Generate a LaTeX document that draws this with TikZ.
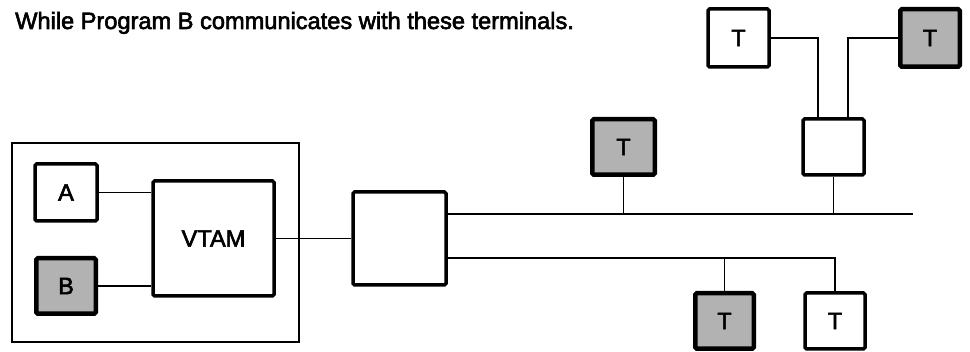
\documentclass[tikz,border=0pt]{standalone}
\usepackage{fontspec}
\setmainfont{Liberation Sans}
\newcommand\heavytext[1]{\special{pdf:literal q 2 Tr 0.6 w}#1\special{pdf:literal Q}}
\usetikzlibrary{calc}
\begin{document}
\begin{tikzpicture}[x=1pt,y=-1pt,
  lbl/.style={font=\fontsize{23.6}{26}\selectfont},
  box/.style={draw, line width=3.5pt, rounded corners=1.5pt, fill=white, inner sep=0pt, lbl},
  shaded/.style={box, fill=gray!60, line width=4.5pt},
  wire/.style={line width=1.6pt},
  host/.style={draw, line width=1.6pt, inner sep=0pt}]
\useasboundingbox (0,0) rectangle (970,352);
\node[anchor=base west, inner sep=0pt, lbl] (title) at (15,29) {\heavytext{While Program B communicates with these terminals.}};
\node[host, minimum width=287pt, minimum height=199pt] (hostbox) at (155.5,242.5) {};
\node[box, minimum width=62pt, minimum height=57pt] (A) at (66,192.5) {\heavytext{A}};
\node[shaded, minimum width=59.5pt, minimum height=55.5pt] (B) at (66,286) {\heavytext{B}};
\node[box, minimum width=121pt, minimum height=115pt] (vtam) at (213.5,238.5) {\heavytext{VTAM}};
\node[box, minimum width=93pt, minimum height=93pt] (ctl) at (399.5,238.5) {};
\node[shaded, minimum width=62.5pt, minimum height=55.5pt] (tm) at (623.5,147) {\heavytext{T}};
\node[box, minimum width=61pt, minimum height=56pt] (sw) at (833.5,147) {};
\node[box, minimum width=61pt, minimum height=58pt] (t1) at (738.5,38) {\heavytext{T}};
\node[shaded, minimum width=59.5pt, minimum height=57.5pt] (t2) at (930,38) {\heavytext{T}};
\node[shaded, minimum width=58.5pt, minimum height=55.5pt] (t3) at (724.5,321) {\heavytext{T}};
\node[box, minimum width=60pt, minimum height=56pt] (t4) at (835,321) {\heavytext{T}};
\coordinate (busend) at (913,214);
\coordinate (bus2) at (448,258);
\coordinate (swl) at ($(sw.north)+(-15.5,0)$);
\coordinate (swr) at ($(sw.north)+(14.5,0)$);
\draw[wire] (A.east) -- (A.east -| vtam.west);
\draw[wire] (B.east) -- (B.east -| vtam.west);
\draw[wire] (vtam.east) -- (ctl.west);
\draw[wire] (ctl.east |- busend) -- (busend);
\draw[wire] (ctl.east |- bus2) -- (t4.north |- bus2) -- (t4.north);
\draw[wire] (t3.north |- bus2) -- (t3.north);
\draw[wire] (tm.south) -- (tm.south |- busend);
\draw[wire] (sw.south) -- (sw.south |- busend);
\draw[wire] (t1.east) -| (swl);
\draw[wire] (t2.west) -| (swr);
\end{tikzpicture}
\end{document}
